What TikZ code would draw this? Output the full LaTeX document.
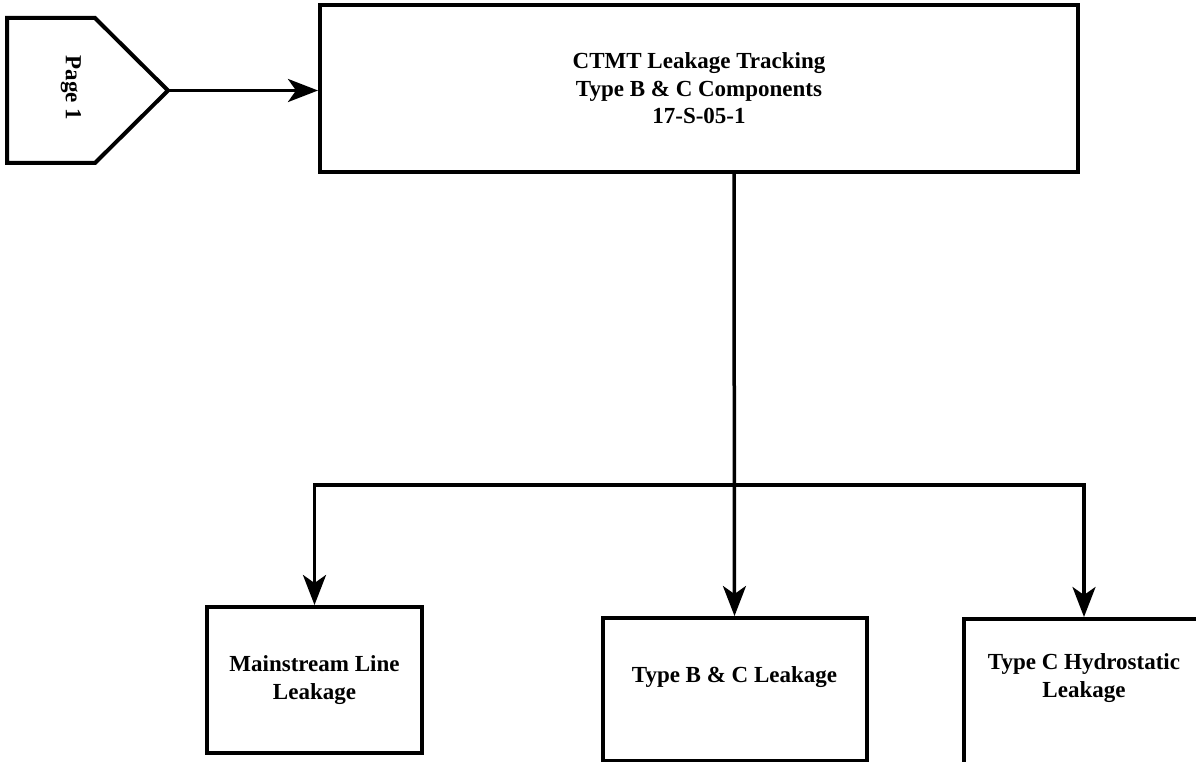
\documentclass[tikz,border=0pt]{standalone}
\usepackage{fontspec}
\setmainfont{Liberation Serif}
\usetikzlibrary{arrows.meta}
\begin{document}
\begin{tikzpicture}[x=1pt,y=-1pt,
  box/.style={draw, line width=4pt, inner sep=0pt, line join=miter},
  lbl/.style={align=center, font=\bfseries\fontsize{23}{27.5}\selectfont, inner sep=0pt},
  conn/.style={line width=3.5pt, -{Stealth[length=30pt,width=23pt,inset=8pt]}}]
\clip (0,0) rectangle (1196,762);
\fill[white] (0,0) rectangle (1196,762);
% page connector
\coordinate (pgtip) at (168,90.5);
\draw[box] (7,18) -- (95,18) -- (pgtip) -- (95,163) -- (7,163) -- cycle;
\node[lbl, rotate=-90] (pg) at (71,88) {Page 1};
% main box
\node[box, lbl, minimum width=758pt, minimum height=167pt] (main) at (699,88.5)
  {CTMT Leakage Tracking\\Type B \& C Components\\17-S-05-1};
% lower boxes
\node[box, lbl, minimum width=215pt, minimum height=146pt] (b1) at (314.5,680)
  {Mainstream Line\\Leakage};
\node[box, minimum width=264pt, minimum height=143pt] (b2) at (734.5,689.5) {};
\node[lbl] (b2t) at (734.5,677.5) {Type B \& C Leakage};
\node[box, minimum width=241pt, minimum height=156pt] (b3) at (1084,697) {};
\node[lbl] (b3t) at (1084,678) {Type C Hydrostatic\\Leakage};
% connectors
\draw[conn] (pgtip) -- (pgtip -| main.west);
\coordinate (j) at (734,485);
\draw[conn] (main.south -| j) -- (b2.north);
\draw[conn] (j) -| (b1.north);
\draw[conn] (j) -| (b3.north);
\end{tikzpicture}
\end{document}
